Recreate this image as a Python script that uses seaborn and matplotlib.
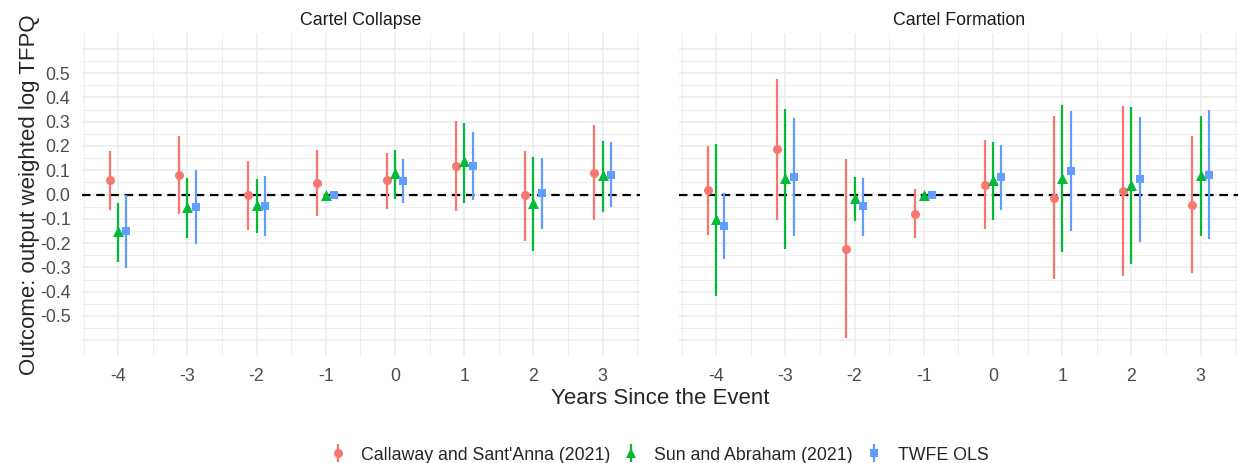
import numpy as np
import pandas as pd
import matplotlib
matplotlib.use("Agg")
import matplotlib.pyplot as plt
from matplotlib.lines import Line2D
from matplotlib.legend_handler import HandlerTuple
from matplotlib.ticker import FixedLocator
import seaborn as sns

# ---------------- data ----------------
periods = [-4, -3, -2, -1, 0, 1, 2, 3]
panels = ["Cartel Collapse", "Cartel Formation"]
methods = ["Callaway and Sant'Anna (2021)", "Sun and Abraham (2021)", "TWFE OLS"]

# Cartel Collapse
col_cs_est = [0.059, 0.079, 0.000, 0.048, 0.059, 0.116, -0.003, 0.090]
col_cs_lo = [-0.064, -0.082, -0.147, -0.088, -0.058, -0.068, -0.192, -0.107]
col_cs_hi = [0.178, 0.240, 0.140, 0.185, 0.171, 0.301, 0.179, 0.285]
col_sa_est = [-0.150, -0.050, -0.044, 0.000, 0.089, 0.137, -0.033, 0.079]
col_sa_lo = [-0.277, -0.178, -0.158, 0.000, -0.020, -0.033, -0.232, -0.074]
col_sa_hi = [-0.037, 0.068, 0.062, 0.000, 0.182, 0.296, 0.156, 0.219]
col_tw_est = [-0.150, -0.050, -0.047, 0.000, 0.055, 0.118, 0.007, 0.082]
col_tw_lo = [-0.304, -0.205, -0.170, 0.000, -0.037, -0.023, -0.142, -0.053]
col_tw_hi = [0.000, 0.100, 0.075, 0.000, 0.147, 0.258, 0.152, 0.215]

# Cartel Formation
for_cs_est = [0.018, 0.188, -0.225, -0.081, 0.041, -0.015, 0.014, -0.042]
for_cs_lo = [-0.167, -0.103, -0.592, -0.181, -0.144, -0.349, -0.336, -0.325]
for_cs_hi = [0.201, 0.477, 0.145, 0.021, 0.226, 0.322, 0.363, 0.240]
for_sa_est = [-0.099, 0.068, -0.014, 0.000, 0.059, 0.068, 0.041, 0.079]
for_sa_lo = [-0.418, -0.226, -0.108, 0.000, -0.103, -0.238, -0.288, -0.171]
for_sa_hi = [0.210, 0.353, 0.073, 0.000, 0.216, 0.367, 0.359, 0.322]
for_tw_est = [-0.129, 0.073, -0.049, 0.000, 0.073, 0.096, 0.064, 0.082]
for_tw_lo = [-0.266, -0.171, -0.171, 0.000, -0.062, -0.151, -0.195, -0.185]
for_tw_hi = [0.007, 0.316, 0.070, 0.000, 0.203, 0.342, 0.319, 0.347]

ytick_vals = [-0.5, -0.4, -0.3, -0.2, -0.1, 0.0, 0.1, 0.2, 0.3, 0.4, 0.5]

# ---------------- styling ----------------
colors = {methods[0]: "#F8766D", methods[1]: "#00BA38", methods[2]: "#619CFF"}
markers = {methods[0]: "o", methods[1]: "^", methods[2]: "s"}
msizes = {methods[0]: 42, methods[1]: 62, methods[2]: 36}
dodge = {methods[0]: -0.12, methods[1]: 0.0, methods[2]: 0.12}

series = {
    (panels[0], methods[0]): (col_cs_est, col_cs_lo, col_cs_hi),
    (panels[0], methods[1]): (col_sa_est, col_sa_lo, col_sa_hi),
    (panels[0], methods[2]): (col_tw_est, col_tw_lo, col_tw_hi),
    (panels[1], methods[0]): (for_cs_est, for_cs_lo, for_cs_hi),
    (panels[1], methods[1]): (for_sa_est, for_sa_lo, for_sa_hi),
    (panels[1], methods[2]): (for_tw_est, for_tw_lo, for_tw_hi),
}
rows = []
for (pan, m), (est, lo, hi) in series.items():
    for p, e, l, h in zip(periods, est, lo, hi):
        rows.append(dict(panel=pan, method=m, period=p, est=e, lo=l, hi=h))
df = pd.DataFrame(rows)
df["xpos"] = df["period"] + df["method"].map(dodge)

sns.set_theme(style="white")
plt.rcParams["font.family"] = ["Liberation Sans", "DejaVu Sans"]

W, H = 1239, 463
fig = plt.figure(figsize=(W / 100, H / 100), dpi=100)
ax_l = fig.add_axes([81.5 / W, 1 - 356 / H, 558.5 / W, 323 / H])
ax_r = fig.add_axes([679.5 / W, 1 - 356 / H, 558.5 / W, 323 / H], sharey=ax_l)

grid_c = "#EBEBEB"
small = 12.8
for ax, pan in zip([ax_l, ax_r], panels):
    sub = df[df["panel"] == pan]
    ax.set_xlim(-4.53, 3.54)
    ax.set_ylim(-0.665, 0.665)
    ax.xaxis.set_major_locator(FixedLocator(periods))
    ax.xaxis.set_minor_locator(FixedLocator([p + 0.5 for p in [-5] + periods]))
    ax.yaxis.set_major_locator(FixedLocator([-0.6] + ytick_vals + [0.6]))
    ax.yaxis.set_minor_locator(FixedLocator(list(np.round(np.arange(-0.55, 0.56, 0.1), 2))))
    ax.grid(which="major", color=grid_c, lw=1.1)
    ax.grid(which="minor", color=grid_c, lw=0.6)
    ax.set_axisbelow(True)
    for s in ax.spines.values():
        s.set_visible(False)
    ax.tick_params(which="both", length=0)
    ax.tick_params(axis="x", pad=8.5, labelsize=small, labelcolor="#4D4D4D")
    ax.tick_params(axis="y", pad=8, labelsize=small, labelcolor="#4D4D4D")
    ax.set_xticklabels([str(p) for p in periods])

    ax.axhline(0, color="black", lw=1.6, dashes=(3.8, 2.6), zorder=1)
    for m in methods:
        s = sub[sub["method"] == m]
        ax.vlines(s["xpos"], s["lo"], s["hi"], color=colors[m], lw=1.6, zorder=2)
    for m in methods:
        s = sub[sub["method"] == m]
        sns.scatterplot(data=s, x="xpos", y="est", color=colors[m], marker=markers[m],
                        s=msizes[m], linewidth=0, ax=ax, zorder=3, legend=False)
    ax.set_xlabel("")
    ax.set_ylabel("")
    ax.set_title(pan, fontsize=small, color="#1A1A1A", pad=6)

ax_l.set_yticklabels([""] + [f"{v:.1f}" for v in ytick_vals] + [""])
ax_r.tick_params(axis="y", labelleft=False)

fig.text(660 / W, 1 - 398 / H, "Years Since the Event", ha="center", va="center", fontsize=16)
fig.text(30 / W, 1 - 194.5 / H, "Outcome: output weighted log TFPQ", ha="center", va="center",
         rotation=90, fontsize=16)

handles = []
for m in methods:
    bar = Line2D([], [], ls="", marker="|", ms=13, mew=1.6, color=colors[m])
    pt = Line2D([], [], ls="", marker=markers[m],
                ms={"o": 6.5, "^": 7.5, "s": 6.0}[markers[m]], color=colors[m], mew=0)
    handles.append((bar, pt))
fig.legend(handles, methods, handler_map={tuple: HandlerTuple(ndivide=1)},
           loc="center", bbox_to_anchor=(658.5 / W, 1 - 455 / H), ncol=3, frameon=False,
           fontsize=small, handlelength=1.0, handletextpad=0.8, columnspacing=0.7,
           borderpad=0, borderaxespad=0)

fig.savefig("out.png", dpi=100)
